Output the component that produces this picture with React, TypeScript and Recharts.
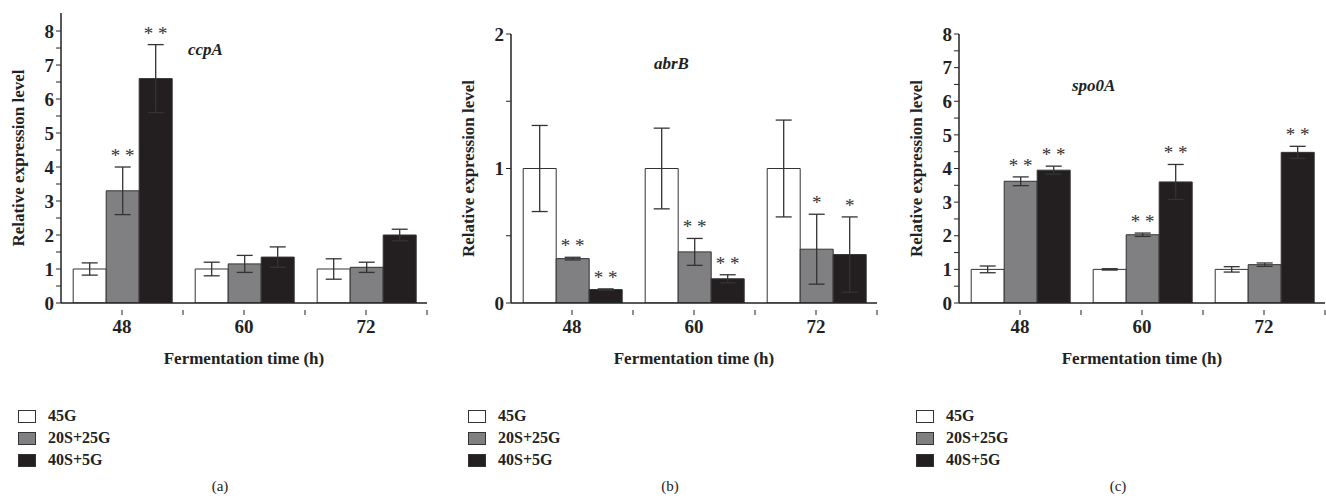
import React from "react";
import { BarChart, Bar, XAxis, YAxis, ErrorBar, LabelList } from "recharts";

const categories = ["48", "60", "72"];
const seriesNames = ["45G", "20S+25G", "40S+5G"];
const colors = ["#ffffff", "#808083", "#231f20"];

const aVals = [[1, 1, 1], [3.3, 1.15, 1.05], [6.6, 1.35, 2.0]];
const aErr = [[0.18, 0.2, 0.3], [0.7, 0.25, 0.15], [1.0, 0.3, 0.17]];
const aStars = [["", "", ""], ["**", "", ""], ["**", "", ""]];

const bVals = [[1, 1, 1], [0.33, 0.38, 0.4], [0.1, 0.18, 0.36]];
const bErr = [[0.32, 0.3, 0.36], [0.01, 0.1, 0.26], [0.005, 0.03, 0.28]];
const bStars = [["", "", ""], ["**", "**", "*"], ["**", "**", "*"]];

const cVals = [[1, 1, 1], [3.62, 2.03, 1.14], [3.95, 3.6, 4.48]];
const cErr = [[0.1, 0.02, 0.08], [0.13, 0.05, 0.05], [0.12, 0.52, 0.18]];
const cStars = [["", "", ""], ["**", "**", ""], ["**", "**", "**"]];

const FONT = "'Liberation Serif', 'DejaVu Serif', serif";

function build(vals: number[][], errs: number[][], stars: string[][]) {
  return categories.map((c, i) => {
    const row: any = { cat: c };
    for (let s = 0; s < 3; s++) {
      row["v" + s] = vals[s][i];
      row["e" + s] = errs[s][i];
      row["s" + s] = stars[s][i];
    }
    return row;
  });
}

type PanelProps = {
  left: number; top: number; max: number; ticks: number[];
  vals: number[][]; errs: number[][]; stars: string[][];
  gene: string; geneX: number; geneY: number; caption: string;
};

const PLOT_BOTTOM = 303;
const W = 440, YW = 61, RM = 13;
const BAND = (W - YW - RM) / categories.length;

const XTick = (t: any) => {
  const { x, y, payload } = t;
  return (
    <g>
      <line x1={x} x2={x} y1={y - 1} y2={y + 4} stroke="#222" />
      <line x1={x + BAND / 2} x2={x + BAND / 2} y1={y - 1} y2={y + 4} stroke="#222" />
      <text x={x} y={y + 22} textAnchor="middle" fontSize={19} fontWeight="bold" fill="#222" fontFamily={FONT}>{payload.value}</text>
    </g>
  );
};

const YLabel = (lp: any) => {
  const vb = lp.viewBox || {};
  const cy = vb.y + vb.height / 2;
  return (
    <text x={18} y={cy} transform={`rotate(-90 18 ${cy})`} textAnchor="middle" dominantBaseline="central"
      fontSize={17} fontWeight="bold" fill="#222" fontFamily={FONT}>Relative expression level</text>
  );
};

function Panel(p: PanelProps) {
  const data = build(p.vals, p.errs, p.stars);
  const plotH = PLOT_BOTTOM - p.top;
  const pxPer = plotH / p.max;
  return (
    <div style={{ position: "absolute", left: p.left, top: 0, width: W, height: 498, fontFamily: FONT }}>
      <BarChart width={W} height={370} data={data}
        margin={{ top: p.top, right: RM, left: 0, bottom: 0 }}
        barCategoryGap="10%" barGap={0}>
        <XAxis dataKey="cat" height={67} tickLine={false} axisLine={{ stroke: "#222", strokeWidth: 1.5 }}
          tick={<XTick />} interval={0}
          label={{ value: "Fermentation time (h)", position: "insideBottom", offset: 6, style: { fontSize: 17, fontWeight: "bold", fill: "#222", fontFamily: FONT } }} />
        <YAxis width={YW} domain={[0, p.max]} ticks={p.ticks} interval={0} allowDataOverflow
          tickFormatter={(v: number) => (Number.isInteger(v) ? String(v) : "")}
          tick={{ fontSize: 19, fontWeight: "bold", fill: "#222", fontFamily: FONT }} tickSize={5}
          tickLine={{ stroke: "#222" }} axisLine={{ stroke: "#222", strokeWidth: 1.5 }}
          label={<YLabel />} />
        {[0, 1, 2].map((s) => (
          <Bar key={s} dataKey={"v" + s} fill={colors[s]} stroke="#333" strokeWidth={1} isAnimationActive={false}>
            <ErrorBar dataKey={"e" + s} width={8} stroke="#333" strokeWidth={1.3} direction="y" />
            <LabelList dataKey={"s" + s} content={(lp: any) => {
              const v = lp.value;
              if (!v) return null;
              const e = data[lp.index]["e" + s];
              const cx = lp.x + lp.width / 2;
              const yy = lp.y - e * pxPer - 5;
              return <text x={cx} y={yy} textAnchor="middle" fontSize={19} fill="#333" stroke="none" fontFamily={FONT}>{v.split("").join(" ")}</text>;
            }} />
          </Bar>
        ))}
      </BarChart>
      <div style={{ position: "absolute", left: p.geneX, top: p.geneY - 12, fontStyle: "italic", fontWeight: "bold", fontSize: 17, color: "#222" }}>{p.gene}</div>
      {seriesNames.map((n, i) => (
        <div key={n} style={{ position: "absolute", left: 18, top: 407 + i * 22, display: "flex", alignItems: "center" }}>
          <div style={{ width: 16, height: 11, background: colors[i], border: "1px solid #333" }} />
          <span style={{ marginLeft: 12, fontSize: 16, fontWeight: "bold", color: "#222" }}>{n}</span>
        </div>
      ))}
      <div style={{ position: "absolute", left: 0, width: W, top: 478, textAlign: "center", fontSize: 15, color: "#222" }}>{p.caption}</div>
    </div>
  );
}

const halfTicks8 = [0, 0.5, 1, 1.5, 2, 2.5, 3, 3.5, 4, 4.5, 5, 5.5, 6, 6.5, 7, 7.5, 8];

export default function App() {
  return (
    <div style={{ position: "absolute", left: 0, top: 0, width: 1326, height: 498, background: "#fff", overflow: "hidden" }}>
      <Panel left={0} top={13} max={8.53} ticks={halfTicks8} vals={aVals} errs={aErr} stars={aStars}
        gene="ccpA" geneX={188} geneY={52} caption="(a)" />
      <Panel left={450} top={34} max={2} ticks={[0, 0.5, 1, 1.5, 2]} vals={bVals} errs={bErr} stars={bStars}
        gene="abrB" geneX={204} geneY={66} caption="(b)" />
      <Panel left={898} top={34} max={8} ticks={halfTicks8} vals={cVals} errs={cErr} stars={cStars}
        gene="spo0A" geneX={174} geneY={88} caption="(c)" />
    </div>
  );
}
